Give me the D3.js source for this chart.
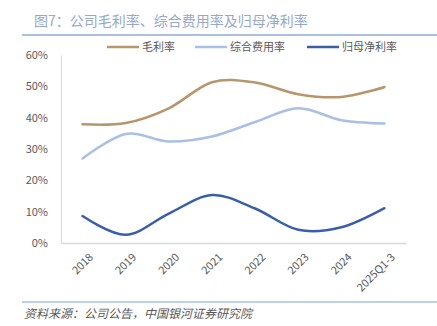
<!DOCTYPE html>
<html>
<head>
<meta charset="utf-8">
<script src="https://cdn.jsdelivr.net/npm/d3@7"></script>
<style>
  body { margin: 0; background: #fff; }
  svg text { font-family: "Noto Sans CJK SC", "Liberation Serif", serif; }
</style>
</head>
<body>
<div id="chart"></div>
<script>
// margins: gross margin, expense ratio, net margin to parent (%)
var years = ["2018", "2019", "2020", "2021", "2022", "2023", "2024", "2025Q1-3"];
var grossMargin = [37.9, 38.3, 43.0, 51.3, 51.2, 47.5, 46.6, 49.8];
var expenseRate = [27.0, 34.8, 32.4, 34.0, 38.6, 43.0, 39.2, 38.1];
var netMargin = [8.6, 2.6, 9.4, 15.3, 11.0, 4.2, 5.0, 11.1];
var yTicks = [0, 10, 20, 30, 40, 50, 60];
var seriesNames = ["毛利率", "综合费用率", "归母净利率"];
var seriesColors = ["#b8956a", "#a9bfe7", "#3a5faa"];

var width = 437, height = 326;
var margin = {top: 55, right: 31, bottom: 83, left: 61};

var svg = d3.select("#chart").append("svg")
    .attr("width", width)
    .attr("height", height);

// title + rule under it
svg.append("text")
    .attr("x", 34)
    .attr("y", 26)
    .attr("font-size", 14)
    .attr("fill", "#97a8cc")
    .text("图7：公司毛利率、综合费用率及归母净利率");

svg.append("line")
    .attr("x1", 22).attr("x2", width)
    .attr("y1", 35).attr("y2", 35)
    .attr("stroke", "#8eaadb")
    .attr("stroke-width", 1.5);

var xScale = d3.scalePoint()
    .domain(years)
    .range([margin.left, width - margin.right])
    .padding(0.5);

var yScale = d3.scaleLinear()
    .domain([0, 60])
    .range([height - margin.bottom, margin.top]);

// y axis labels
var yAxis = svg.append("g")
    .attr("transform", "translate(" + margin.left + ",0)")
    .call(d3.axisLeft(yScale).tickValues(yTicks).tickSize(0).tickPadding(13)
        .tickFormat(function (d) { return d + "%"; }));
yAxis.select(".domain").attr("stroke", "#d9d9d9");
yAxis.selectAll("text").attr("font-size", 11).attr("fill", "#595959")
    .attr("font-family", "Liberation Serif, serif");

// x axis
var xAxis = svg.append("g")
    .attr("transform", "translate(0," + (height - margin.bottom) + ")")
    .call(d3.axisBottom(xScale).tickSize(0).tickSizeOuter(0));
xAxis.select(".domain").attr("stroke", "#d9d9d9").attr("stroke-width", 1.5);
xAxis.selectAll("text")
    .attr("font-size", 11)
    .attr("fill", "#595959")
    .attr("font-family", "Liberation Serif, serif")
    .attr("text-anchor", "end")
    .attr("dy", "0.35em")
    .attr("transform", "translate(6,10) rotate(-45)");

// lines
var allSeries = [grossMargin, expenseRate, netMargin];
var line = d3.line()
    .x(function (d, i) { return xScale(years[i]); })
    .y(function (d) { return yScale(d); })
    .curve(d3.curveCardinal.tension(0));

svg.selectAll(".series")
    .data(allSeries)
    .enter()
    .append("path")
    .attr("class", "series")
    .attr("d", line)
    .attr("fill", "none")
    .attr("stroke", function (d, i) { return seriesColors[i]; })
    .attr("stroke-width", 2.5)
    .attr("stroke-linecap", "round");

// legend
var legendX = [107, 195, 307];
var legend = svg.selectAll(".legend")
    .data(seriesNames)
    .enter()
    .append("g")
    .attr("class", "legend")
    .attr("transform", function (d, i) { return "translate(" + legendX[i] + ",47)"; });

legend.append("line")
    .attr("x1", 0).attr("x2", 32)
    .attr("stroke", function (d, i) { return seriesColors[i]; })
    .attr("stroke-width", 2.5);

legend.append("text")
    .attr("x", 35)
    .attr("dy", "0.35em")
    .attr("font-size", 11)
    .attr("fill", "#595959")
    .text(function (d) { return d; });

// source footer
svg.append("line")
    .attr("x1", 22).attr("x2", width)
    .attr("y1", 302).attr("y2", 302)
    .attr("stroke", "#a9bfe0")
    .attr("stroke-width", 1.5);

svg.append("text")
    .attr("x", 24)
    .attr("y", 318)
    .attr("font-size", 12)
    .attr("font-style", "italic")
    .attr("fill", "#595959")
    .text("资料来源：公司公告，中国银河证券研究院");
</script>
</body>
</html>
